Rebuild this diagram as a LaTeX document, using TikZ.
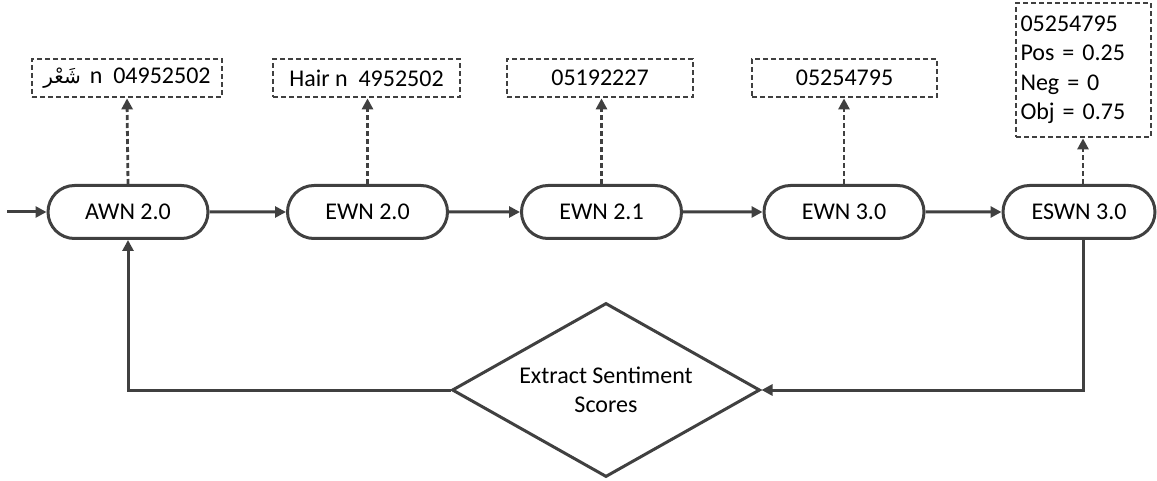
\documentclass[tikz,border=0pt]{standalone}
\usepackage{fontspec}
\setmainfont{Carlito}
\newfontfamily\arabicfont[Script=Arabic]{DejaVu Sans}
\TeXXeTstate=1
\usetikzlibrary{shapes.misc,shapes.geometric,arrows.meta}
\definecolor{linec}{HTML}{404040}
\begin{document}
\begin{tikzpicture}[x=1pt,y=-1pt,
  font=\fontsize{24}{29.5}\selectfont,
  every node/.style={text=black},
  stage/.style={rounded rectangle, draw=linec, line width=3pt, minimum width=160pt, minimum height=53pt, inner sep=0pt},
  labelbox/.style={rectangle, draw=linec, line width=2.8pt, dash pattern=on 5pt off 3pt, minimum height=38pt, inner sep=0pt},
  flow/.style={draw=linec, line width=3pt, -{Triangle[length=11pt,width=11pt]}},
  dflow/.style={draw=linec, line width=2.8pt, dash pattern=on 5pt off 3pt, -{Triangle[length=11pt,width=11pt]}}
]
\useasboundingbox (0,0) rectangle (1157,481);

\coordinate (start) at (7,212);
\node[stage] (awn) at (128,212) {AWN 2.0};
\node[stage] (ewn20) at (367.5,212) {EWN 2.0};
\node[stage] (ewn21) at (601.5,212) {EWN 2.1};
\node[stage] (ewn30) at (844,212) {EWN 3.0};
\node[stage, minimum width=152pt] (eswn) at (1079,212) {ESWN 3.0};

\node[labelbox, minimum width=190pt] (l1) at (127,78) {\mbox{\arabicfont\fontsize{20}{24}\selectfont\beginR شَعْر\endR}\hspace{9pt}n\ \ 04952502};
\node[labelbox, minimum width=187pt] (l2) at (366.5,78) {Hair n\ \ 4952502};
\node[labelbox, minimum width=186pt] (l3) at (600,78) {05192227};
\node[labelbox, minimum width=185pt] (l4) at (844.5,78) {05254795};
\node[labelbox, minimum width=135pt, minimum height=134pt, text width=126pt, inner xsep=4.5pt, align=left] (l5) at (1083.5,70) {05254795\\Pos = 0.25\\Neg = 0\\Obj = 0.75};

\node[diamond, draw=linec, line width=3pt, aspect=1.77, minimum width=308pt, minimum height=174pt, inner sep=0pt, align=center] (dia) at (606,390) {Extract Sentiment\\Scores};

\coordinate (eswnb) at ([xshift=4pt]eswn.south);
\coordinate (eswnt) at ([xshift=4pt]eswn.north);
\coordinate (corner1) at (1083,390);
\coordinate (corner2) at (128,390);

\draw[flow] (start) -- (awn);
\draw[flow] (awn) -- (ewn20);
\draw[flow] (ewn20) -- (ewn21);
\draw[flow] (ewn21) -- (ewn30);
\draw[flow] (ewn30) -- (eswn);

\draw[dflow] (awn.north) -- (l1.south);
\draw[dflow] (ewn20.north) -- (l2.south -| ewn20.north);
\draw[dflow] (ewn21.north) -- (l3.south -| ewn21.north);
\draw[dflow] (ewn30.north) -- (l4.south -| ewn30.north);
\draw[dflow] (eswnt) -- (l5.south -| eswnt);

\draw[flow] (eswnb) -- (corner1) -- (dia.east);
\draw[flow] (dia.west) -- (corner2) -- (awn.south);
\end{tikzpicture}
\end{document}
